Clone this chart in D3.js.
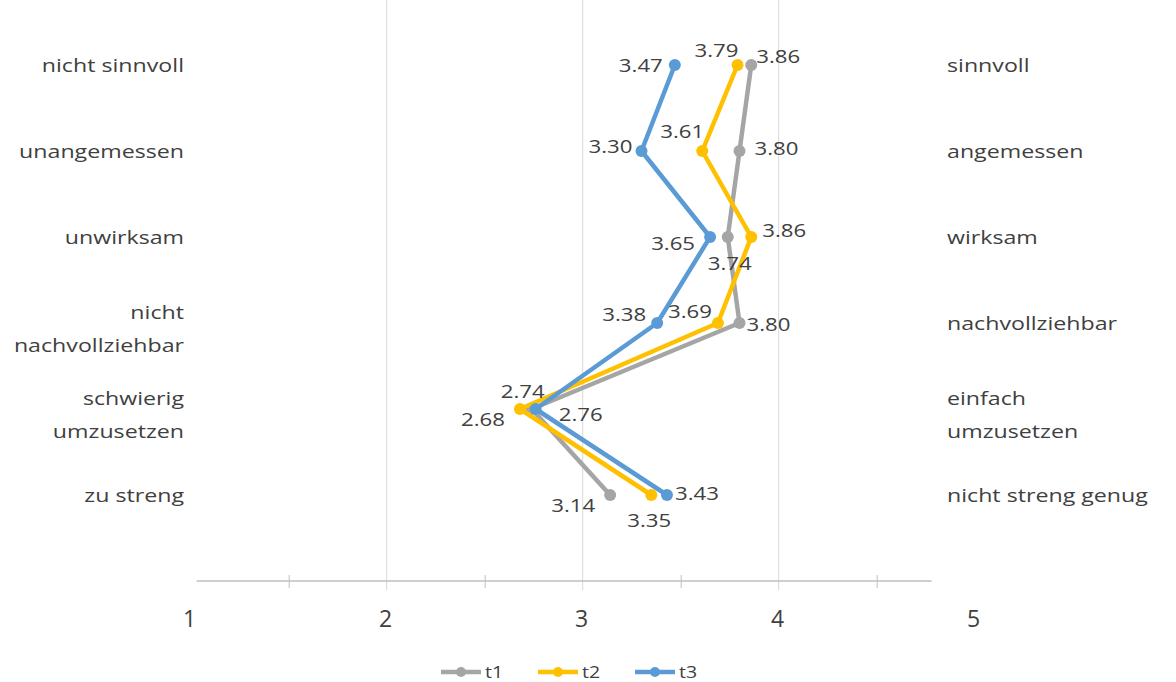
<!DOCTYPE html>
<html>
<head>
<meta charset="utf-8">
<script src="https://cdn.jsdelivr.net/npm/d3@7"></script>
<style>
  html, body { margin: 0; padding: 0; background: #ffffff; }
  svg { display: block; font-family: "Open Sans", "Noto Sans", sans-serif; }
</style>
</head>
<body>
<svg id="chart" width="1176" height="682"></svg>
<script>
// ---- data ----
const leftLabels = ["nicht sinnvoll", "unangemessen", "unwirksam", "nicht\nnachvollziehbar", "schwierig\numzusetzen", "zu streng"];
const rightLabels = ["sinnvoll", "angemessen", "wirksam", "nachvollziehbar", "einfach\numzusetzen", "nicht streng genug"];
const t1 = [3.86, 3.80, 3.74, 3.80, 2.74, 3.14];
const t2 = [3.79, 3.61, 3.86, 3.69, 2.68, 3.35];
const t3 = [3.47, 3.30, 3.65, 3.38, 2.76, 3.43];
const seriesNames = ["t1", "t2", "t3"];
const tickLabels = [1, 2, 3, 4, 5];
const gridValues = [2, 3, 4];
const minorTicks = [1.5, 2.5, 3.5, 4.5];

// ---- layout / style ----
const W = 1176, H = 682;
const colors = { t1: "#A5A5A5", t2: "#FFC000", t3: "#5B9BD5" };
const textColor = "#404040";
// label offsets (px) from each point, per series
const labelOffsets = {
  t1: [[27, -9], [37, -3], [2, 26], [29, 1], [-9, -18], [-37, 10]],
  t2: [[-21, -15], [-20, -20], [33, -7], [-28, -12], [-37, 10], [-2, 25]],
  t3: [[-34, 0], [-31, -5], [-37, 6], [-33, -9], [45, 5], [30, -2]]
};

const svg = d3.select("#chart");

const x = d3.scaleLinear().domain([1, 5]).range([190.7, 974.7]);
const y = d3.scalePoint().domain(d3.range(leftLabels.length)).range([65, 495]);
const axisY = 581;

// gridlines
svg.append("g").selectAll("line").data(gridValues).join("line")
  .attr("x1", d => x(d)).attr("x2", d => x(d))
  .attr("y1", 0).attr("y2", axisY + 9)
  .attr("stroke", "#d9d9d9").attr("stroke-width", 1);

// minor tick marks via d3.axisBottom
const axisG = svg.append("g").attr("transform", `translate(0,${axisY - 6})`)
  .call(d3.axisBottom(x).tickValues(minorTicks).tickSize(13).tickFormat(""));
axisG.select(".domain").remove();
axisG.selectAll(".tick line").attr("stroke", "#bfbfbf");

svg.append("line")
  .attr("x1", x(1.03)).attr("x2", x(4.78))
  .attr("y1", axisY).attr("y2", axisY)
  .attr("stroke", "#bfbfbf").attr("stroke-width", 1.3);

// tick labels
svg.append("g").selectAll("text").data(tickLabels).join("text")
  .attr("x", d => x(d) - 1).attr("y", 618)
  .attr("text-anchor", "middle").attr("dominant-baseline", "central")
  .attr("font-size", 23).attr("fill", textColor)
  .text(d => d);

// category labels
function catLabel(g, labels, anchor, xpos) {
  labels.forEach((lab, i) => {
    const lines = lab.split("\n");
    const offs = lines.length === 1 ? [-1] : [-12, 21];
    lines.forEach((ln, j) => {
      g.append("text")
        .attr("transform", `translate(${xpos},${y(i) + offs[j]}) scale(1.22,1)`)
        .attr("text-anchor", anchor).attr("dominant-baseline", "central")
        .attr("font-size", 19).attr("fill", textColor)
        .text(ln);
    });
  });
}
catLabel(svg.append("g"), leftLabels, "end", 184);
catLabel(svg.append("g"), rightLabels, "start", 947);

// series
const seriesData = { t1, t2, t3 };
const line = d3.line().x(d => x(d.v)).y(d => y(d.i));
const seriesG = svg.append("g");
seriesNames.forEach(name => {
  const pts = seriesData[name].map((v, i) => ({ v, i }));
  seriesG.append("path").datum(pts)
    .attr("d", line).attr("fill", "none")
    .attr("stroke", colors[name]).attr("stroke-width", 4.5)
    .attr("stroke-linejoin", "round").attr("stroke-linecap", "round");
  seriesG.selectAll(null).data(pts).join("circle")
    .attr("cx", d => x(d.v)).attr("cy", d => y(d.i)).attr("r", 6)
    .attr("fill", colors[name]);
});

// data labels
const labelG = svg.append("g");
seriesNames.forEach(name => {
  seriesData[name].forEach((v, i) => {
    const [dx, dy] = labelOffsets[name][i];
    labelG.append("text")
      .attr("transform", `translate(${x(v) + dx},${y(i) + dy}) scale(1.2,1)`)
      .attr("text-anchor", "middle").attr("dominant-baseline", "central")
      .attr("font-size", 18.5).attr("fill", textColor)
      .text(v.toFixed(2));
  });
});

// legend
const legendStart = 441, legendStep = 97, legendY = 671;
const lg = svg.append("g");
seriesNames.forEach((name, k) => {
  const lx = legendStart + k * legendStep;
  lg.append("line").attr("x1", lx).attr("x2", lx + 40)
    .attr("y1", legendY + 1).attr("y2", legendY + 1)
    .attr("stroke", colors[name]).attr("stroke-width", 4.5);
  lg.append("circle").attr("cx", lx + 20).attr("cy", legendY + 1).attr("r", 5)
    .attr("fill", colors[name]);
  lg.append("text")
    .attr("transform", `translate(${lx + 44},${legendY}) scale(1.15,1)`)
    .attr("dominant-baseline", "central")
    .attr("font-size", 17).attr("fill", textColor)
    .text(name);
});
</script>
</body>
</html>
